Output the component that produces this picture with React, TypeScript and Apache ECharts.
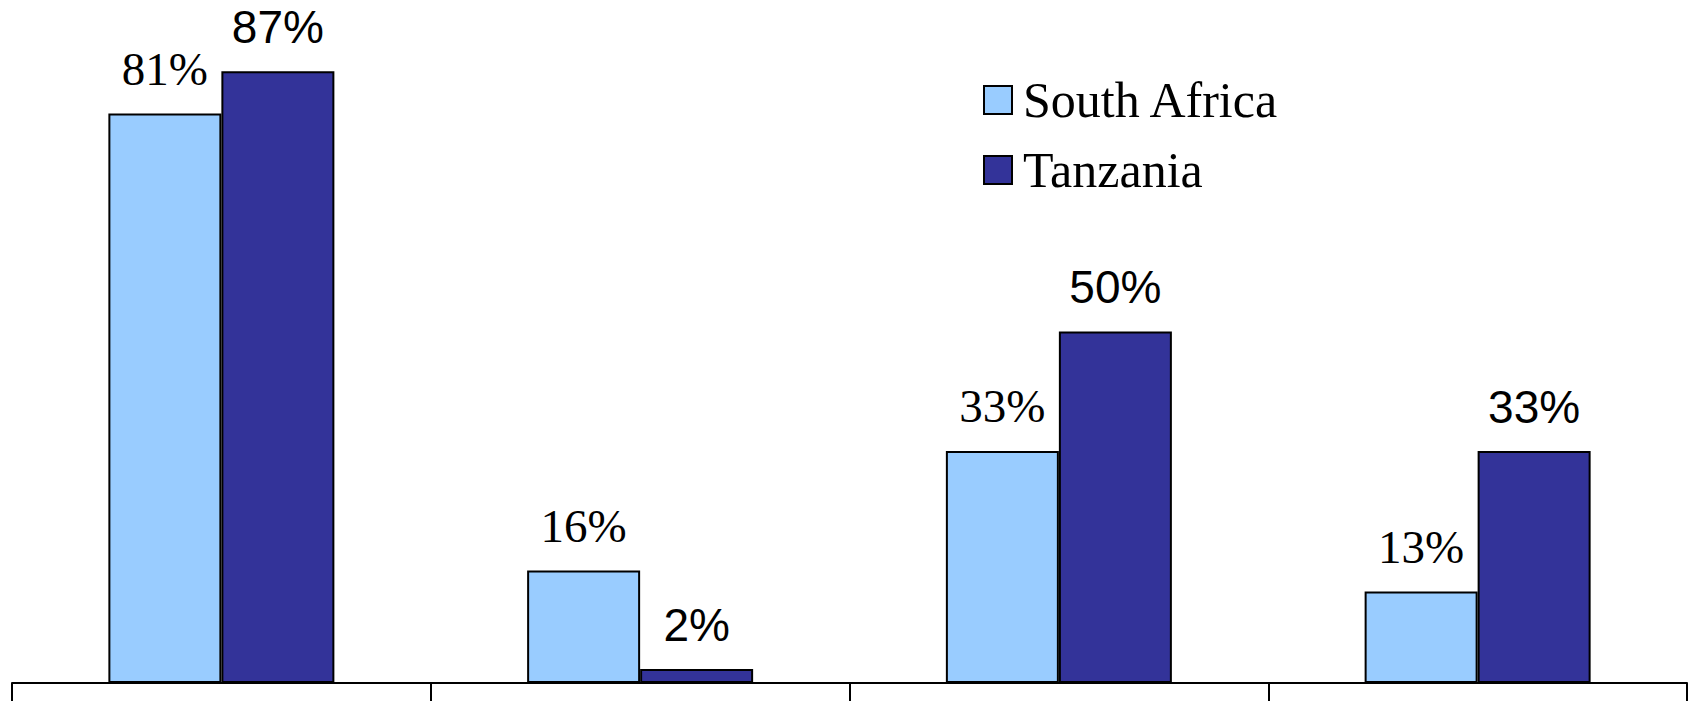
import React, { useEffect, useRef } from "react";
import * as echarts from "echarts";

const categories = ["Category 1", "Category 2", "Category 3", "Category 4"];
const southAfrica = [81, 16, 33, 13];
const tanzania = [87, 2, 50, 33];

export default function App() {
  const ref = useRef<HTMLDivElement>(null);
  useEffect(() => {
    if (!ref.current) return;
    const chart = echarts.init(ref.current, undefined, { renderer: "svg" });
    chart.setOption({
      animation: false,
      backgroundColor: "#ffffff",
      legend: {
        orient: "vertical",
        left: 978,
        top: 70,
        itemWidth: 28,
        itemHeight: 28,
        itemGap: 20,
        icon: "rect",
        textStyle: { fontFamily: "Liberation Serif", fontSize: 50, color: "#000", padding: [0, 0, 0, 6] },
        data: [
          { name: "South Africa", itemStyle: { borderColor: "#000", borderWidth: 2 } },
          { name: "Tanzania", itemStyle: { borderColor: "#000", borderWidth: 2 } },
        ],
      },
      grid: { left: 12, right: 9, top: 15, bottom: 18, containLabel: false },
      xAxis: {
        type: "category",
        data: categories,
        axisLine: { show: true, lineStyle: { color: "#000", width: 2 } },
        axisTick: { show: true, length: 22, lineStyle: { color: "#000", width: 2 } },
        axisLabel: { show: false },
        splitLine: { show: false },
      },
      yAxis: {
        type: "value",
        min: 0,
        max: 95,
        show: false,
        splitLine: { show: false },
      },
      series: [
        {
          name: "South Africa",
          type: "bar",
          data: southAfrica,
          barWidth: 113,
          barGap: "0%",
          itemStyle: { color: "#99CCFF", borderColor: "#000", borderWidth: 2 },
          label: {
            show: true,
            position: "top",
            distance: 21,
            formatter: "{c}%",
            fontFamily: "Liberation Serif",
            fontSize: 47,
            color: "#000",
          },
        },
        {
          name: "Tanzania",
          type: "bar",
          data: tanzania,
          barWidth: 113,
          barGap: "0%",
          itemStyle: { color: "#333399", borderColor: "#000", borderWidth: 2 },
          label: {
            show: true,
            position: "top",
            distance: 21,
            formatter: "{c}%",
            fontFamily: "Liberation Sans",
            fontSize: 46,
            color: "#000",
          },
        },
      ],
    });
    return () => chart.dispose();
  }, []);
  return (
    <div
      ref={ref}
      style={{ position: "fixed", left: 0, top: 0, width: 1696, height: 701 }}
    />
  );
}
